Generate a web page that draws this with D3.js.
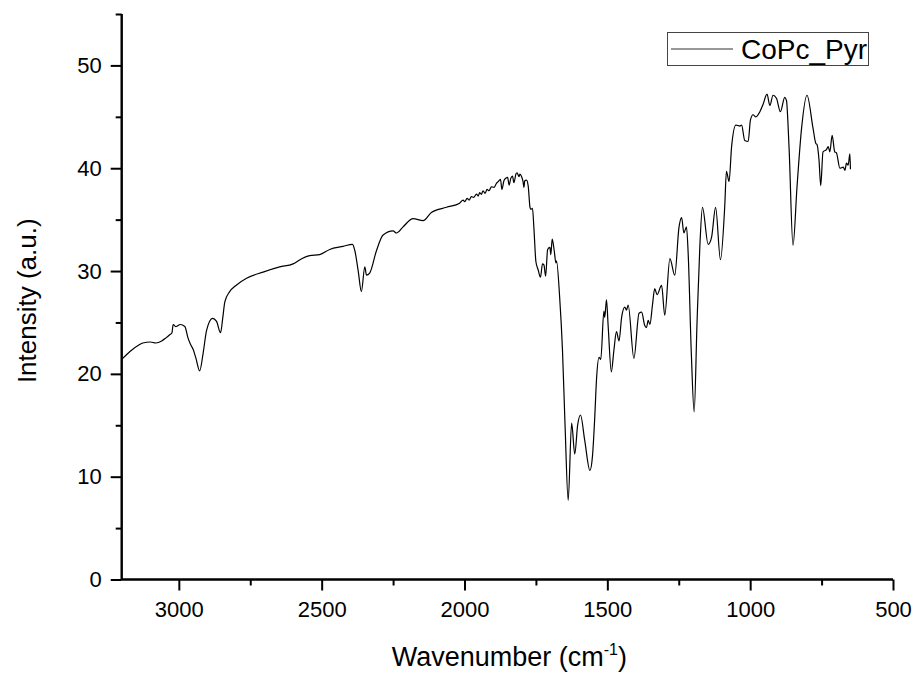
<!DOCTYPE html>
<html>
<head>
<meta charset="utf-8">
<script src="https://cdn.jsdelivr.net/npm/d3@7"></script>
<style>
  html, body { margin: 0; padding: 0; background: #fff; }
  svg { display: block; }
  text { font-family: "Liberation Sans", Arial, sans-serif; fill: #000; }
</style>
</head>
<body>
<svg id="chart" width="916" height="675"></svg>
<script>
// ---- data ----
const wavenumber = [
  3200,3170,3140,3126,3100,3080,3060,3045,3032,3024,3020,3010,2995,2979,2968,2958,2950,2940,2927,2915,
  2903,2882,2868,2854,2846,2839,2822,2800,2763,2705,2647,2600,2570,2542,2507,2472,2425,2392,2384,2372,
  2361,2349,2343,2332,2308,2285,2250,2238,2215,2180,2145,2116,2063,2017,2005,1999,1991,1984,1976,1968,
  1958,1952,1947,1941,1935,1928,1921,1914,1906,1897,1888,1882,1874,1869,1862,1855,1849,1844,1838,1832,
  1827,1820,1816,1809,1806,1800,1795,1792,1789,1783,1777,1771,1768,1762,1757,1750,1742,1734,1727,1722,
  1716,1709,1701,1698,1693,1686,1680,1678,1667,1657,1648,1637,1625,1614,1604,1594,1579,1561,1552,1544,
  1538,1529,1523,1512,1509,1503,1497,1486,1477,1468,1459,1450,1439,1433,1427,1407,1389,1380,1369,1363,
  1357,1351,1342,1334,1326,1310,1299,1281,1264,1249,1240,1232,1223,1217,1206,1196,1186,1176,1167,1147,
  1135,1121,1104,1089,1083,1074,1065,1050,1036,1030,1019,1007,999,990,980,966,955,941,931,920,
  908,894,879,873,864,850,836,820,801,780,770,766,759,753,745,733,727,721,713,704,
  698,686,674,668,663,657,651,649
];
const intensity = [
  21.4,22.2,22.8,23.0,23.1,23.0,23.2,23.5,23.8,24.0,24.8,24.6,24.8,24.6,23.5,22.8,22.4,21.5,20.3,22.0,
  24.2,25.4,25.1,24.0,25.5,27.0,28.0,28.6,29.3,29.9,30.4,30.7,31.2,31.5,31.6,32.1,32.4,32.6,32.0,30.0,
  28.0,30.4,29.6,29.8,32.0,33.5,33.9,33.7,34.3,35.1,34.9,35.7,36.2,36.6,36.9,36.74,37.07,36.9,37.23,37.16,
  37.49,37.29,37.62,37.46,37.81,37.56,37.94,37.81,38.2,38.14,38.53,38.69,38.92,37.94,38.78,39.04,39.11,38.36,39.01,39.24,
  38.59,39.43,39.56,39.17,39.43,39.17,38.69,38.14,38.78,38.85,38.27,36.25,36.0,36.1,34.15,30.9,30.1,29.4,30.7,30.6,
  29.5,32.1,32.3,31.6,33.1,32.0,30.8,31.0,27.5,22.3,15.0,7.7,15.2,12.2,15.0,16.0,13.5,10.6,12.0,15.8,
  19.4,21.6,21.4,26.1,25.5,27.2,24.6,20.2,22.3,24.1,23.2,25.5,26.5,26.2,26.7,21.5,25.9,26.0,24.7,24.5,
  25.2,24.8,26.7,28.3,27.7,28.6,25.7,31.2,29.6,34.3,35.2,33.7,34.3,31.7,22.0,16.3,25.0,32.5,36.2,32.6,
  33.3,36.2,31.1,36.3,39.7,38.7,42.1,44.2,44.1,44.2,42.7,42.6,44.7,45.2,45.0,45.5,46.2,47.2,46.1,47.1,
  46.8,45.5,46.9,46.6,42.1,32.5,38.2,43.9,47.1,43.9,42.4,42.3,40.8,38.3,41.6,41.8,42.1,41.6,43.2,41.6,
  41.5,40.0,40.1,39.8,40.5,40.3,41.4,39.9
];
const seriesName = "CoPc_Pyr";
const xMajorTicks = [3000, 2500, 2000, 1500, 1000, 500];
const xMinorTicks = [2750, 2250, 1750, 1250, 750];
const yMajorTicks = [0, 10, 20, 30, 40, 50];
const yMinorTicks = [5, 15, 25, 35, 45, 55];
const xDomain = [3200, 500];
const yDomain = [0, 55];

// ---- layout ----
const svg = d3.select("#chart");
const L = 121.7, R = 893, T = 14, B = 579.5;
const x = d3.scaleLinear().domain(xDomain).range([L, R]);
const y = d3.scaleLinear().domain(yDomain).range([B, T]);

const data = wavenumber.map((w, i) => ({ w, v: intensity[i] }));

// line
const line = d3.line().x(d => x(d.w)).y(d => y(d.v)).curve(d3.curveMonotoneX);
svg.append("path")
  .datum(data)
  .attr("d", line)
  .attr("fill", "none")
  .attr("stroke", "#000")
  .attr("stroke-width", 1.2)
  .attr("stroke-linejoin", "round");

// x axis
const gx = svg.append("g").attr("transform", `translate(0,${B})`);
gx.call(d3.axisBottom(x).tickValues(xMajorTicks).tickSize(11).tickPadding(11).tickFormat(d3.format("d")));
gx.append("g").call(d3.axisBottom(x).tickValues(xMinorTicks).tickSize(6).tickFormat(""));
// y axis
const gy = svg.append("g").attr("transform", `translate(${L},0)`);
gy.call(d3.axisLeft(y).tickValues(yMajorTicks).tickSize(11).tickPadding(9).tickFormat(d3.format("d")));
gy.append("g").call(d3.axisLeft(y).tickValues(yMinorTicks).tickSize(6).tickFormat(""));

svg.selectAll(".domain").attr("stroke", "#000").attr("stroke-width", 2);
svg.selectAll(".tick line").attr("stroke", "#000").attr("stroke-width", 2);
svg.selectAll(".tick text").style("font-size", "22px").attr("fill", "#000")
   .style("font-family", '"Liberation Sans", Arial, sans-serif');
// remove outer domain caps
gx.selectAll(".domain").attr("d", `M${L},0H${R}`);
gy.selectAll(".domain").attr("d", `M0,${T}V${B}`);

// axis titles
const xt = svg.append("text")
  .attr("x", (L + R) / 2 + 2)
  .attr("y", 666)
  .attr("text-anchor", "middle")
  .style("font-size", "27px");
xt.append("tspan").text("Wavenumber (cm");
xt.append("tspan").text("-1").attr("dy", -11).style("font-size", "16px");
xt.append("tspan").text(")").attr("dy", 11);

svg.append("text")
  .attr("transform", `translate(36,${(T + B) / 2 + 4}) rotate(-90)`)
  .attr("text-anchor", "middle")
  .style("font-size", "26px")
  .text("Intensity (a.u.)");

// legend
const lg = svg.append("g");
lg.append("rect").attr("x", 667.5).attr("y", 32.5).attr("width", 201).attr("height", 33)
  .attr("fill", "#fff").attr("stroke", "#444").attr("stroke-width", 1);
lg.append("line").attr("x1", 671).attr("x2", 733).attr("y1", 49).attr("y2", 49)
  .attr("stroke", "#333").attr("stroke-width", 1.2);
lg.append("text").attr("x", 741).attr("y", 58.5).style("font-size", "28px").text(seriesName);
</script>
</body>
</html>
